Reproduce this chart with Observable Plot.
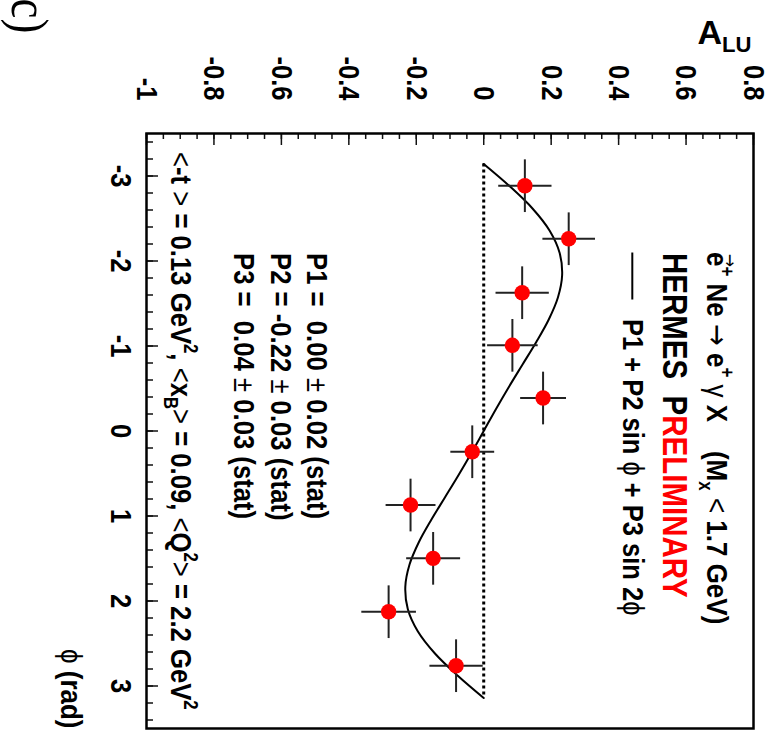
<!DOCTYPE html>
<html><head><meta charset="utf-8">
<script src="https://cdn.jsdelivr.net/npm/d3@7"></script>
<script src="https://cdn.jsdelivr.net/npm/@observablehq/plot@0.6"></script>
<style>
html,body{margin:0;padding:0;background:#fff;}
#chart svg text{white-space:pre;}
</style></head><body><div id="chart"></div>
<script>
// ---- data ----
const phiBins      = [-2.886, -2.262, -1.627, -1.008, -0.388, 0.244, 0.871, 1.498, 2.126, 2.761];
const aluValues    = [0.122, 0.252, 0.114, 0.085, 0.176, -0.034, -0.217, -0.150, -0.282, -0.082];
const aluErrors    = [0.079, 0.078, 0.079, 0.075, 0.068, 0.065, 0.074, 0.080, 0.081, 0.079];
const phiHalfWidth = [0.31, 0.31, 0.31, 0.31, 0.31, 0.31, 0.31, 0.31, 0.31, 0.31];

// fit curve P1 + P2 sin(phi) + P3 sin(2 phi), tabulated
const fitPhi = [-3.1416,-2.8798,-2.618,-2.3562,-2.0944,-1.8326,-1.5708,-1.309,-1.0472,-0.7854,-0.5236,-0.2618,0,
                0.2618,0.5236,0.7854,1.0472,1.309,1.5708,1.8326,2.0944,2.3562,2.618,2.8798,3.1416];
const fitAlu = [0,0.0769,0.1446,0.1956,0.2252,0.2325,0.22,0.1925,0.1559,0.1156,0.0754,0.0369,0,
                -0.0369,-0.0754,-0.1156,-0.1559,-0.1925,-0.22,-0.2325,-0.2252,-0.1956,-0.1446,-0.0769,0];

const aTicks        = [-1, -0.8, -0.6, -0.4, -0.2, 0, 0.2, 0.4, 0.6, 0.8];
const aTickLabels   = ["-1", "-0.8", "-0.6", "-0.4", "-0.2", "0", "0.2", "0.4", "0.6", "0.8"];
const phiTicks      = [-3, -2, -1, 0, 1, 2, 3];
const phiTickLabels = ["-3", "-2", "-1", "0", "1", "2", "3"];

const reactionText = "e^{+} Ne ~{→} e^{+} ~{γ} X    (M_{x} ~{<} 1.7 GeV)";
const hermesText   = "HERMES  P!{RELIMINARY}";
const fitText      = "P1 + P2 sin ~{ϕ} + P3 sin 2~{ϕ}";
const paramTexts   = ["P1 =  0.00 ~{±} 0.02 (stat)", "P2 = -0.22 ~{±} 0.03 (stat)", "P3 =  0.04 ~{±} 0.03 (stat)"];
const kinText      = "~{<}-t ~{>} = 0.13 GeV^{2}, ~{<}x_{B}~{>} = 0.09, ~{<}Q^{2}~{>} = 2.2 GeV^{2}";

// ---- layout ----
const W = 773, H = 736, mT = 133, mL = 146, mR = 20, mB = 8;
const plotW = W - mL - mR, plotH = H - mT - mB;
const FONT = "Liberation Sans, Arial, Helvetica, sans-serif";
const ARROWFONT = "DejaVu Sans, Liberation Sans, sans-serif";

const pts = phiBins.map((p, i) => ({phi: p, alu: aluValues[i], ea: aluErrors[i], ep: phiHalfWidth[i]}));
const fit = fitPhi.map((p, i) => ({phi: p, alu: fitAlu[i]}));
const aMinor = d3.range(-1, 0.8001, 0.05);
const phiMinor = d3.range(-3.4, 3.4001, 0.2);

const note = (str, a, p, size, extra = {}) =>
  Plot.text([str], {x: () => a, y: () => p, text: d => d, rotate: 90, textAnchor: "start",
    lineAnchor: "middle", fontSize: size, fontWeight: "bold", fontFamily: FONT, ...extra});

const chart = Plot.plot({
  width: W, height: H, marginTop: mT, marginLeft: mL, marginRight: mR, marginBottom: mB,
  style: {background: "white", fontFamily: FONT},
  x: {domain: [-1, 0.8], axis: null},
  y: {domain: [-3.5, 3.5], reverse: true, axis: null},
  marks: [
    Plot.tickX(aMinor, {x: d => d, insetBottom: plotH - 6, stroke: "#111", strokeWidth: 1.5}),
    Plot.tickX(aTicks, {x: d => d, insetBottom: plotH - 12, stroke: "#111", strokeWidth: 1.5}),
    Plot.tickY(phiMinor, {y: d => d, insetRight: plotW - 7, stroke: "#111", strokeWidth: 1.5}),
    Plot.tickY(phiTicks, {y: d => d, insetRight: plotW - 12, stroke: "#111", strokeWidth: 1.5}),
    Plot.ruleX([0], {y1: fitPhi[0], y2: fitPhi[fitPhi.length - 1], stroke: "black", strokeWidth: 3, strokeDasharray: "3,3"}),
    Plot.line(fit, {x: "alu", y: "phi", curve: "catmull-rom", stroke: "black", strokeWidth: 2}),
    Plot.link(pts, {x1: d => d.alu - d.ea, x2: d => d.alu + d.ea, y1: "phi", y2: "phi", stroke: "#222", strokeWidth: 2}),
    Plot.link(pts, {x1: "alu", x2: "alu", y1: d => d.phi - d.ep, y2: d => d.phi + d.ep, stroke: "#222", strokeWidth: 2}),
    Plot.dot(pts, {x: "alu", y: "phi", r: 7.7, fill: "#ff0000"}),
    Plot.frame({stroke: "black", strokeWidth: 2.5}),
    // tick labels
    Plot.text(aTicks, {x: d => d, text: (d, i) => aTickLabels[i], frameAnchor: "top", dy: -33, rotate: 90,
      textAnchor: "end", lineAnchor: "middle", fontSize: 25.5, fontWeight: "bold", fontFamily: FONT}),
    Plot.text(phiTicks, {y: d => d, text: (d, i) => phiTickLabels[i], frameAnchor: "left", dx: -26, rotate: 90,
      textAnchor: "middle", lineAnchor: "middle", fontSize: 25.5, fontWeight: "bold", fontFamily: FONT}),
    // axis titles
    Plot.text(["A_{LU}"], {frameAnchor: "top-right", dx: -2, dy: -90, textAnchor: "end", lineAnchor: "bottom",
      fontSize: 34, fontWeight: "bold", fontFamily: FONT}),
    Plot.text(["~{ϕ} (rad)"], {frameAnchor: "bottom-left", dx: -76, dy: 0, rotate: 90, textAnchor: "end",
      lineAnchor: "middle", fontSize: 26, fontWeight: "bold", fontFamily: FONT}),
    Plot.text(["(c)"], {frameAnchor: "top-left", dx: -118, dy: -100, rotate: 90, textAnchor: "end",
      lineAnchor: "middle", fontSize: 45, fontWeight: "normal", fontFamily: "Liberation Serif, Times New Roman, serif"}),
    // legend / annotations
    note(reactionText, 0.691, -2.106, 26),
    note("→", 0.7312, -2.006, 16, {textAnchor: "middle", fontWeight: "normal", fontFamily: ARROWFONT}),
    note(hermesText, 0.565, -2.094, 29.5),
    Plot.ruleX([0.4406], {y1: -2.094, y2: -1.541, stroke: "black", strokeWidth: 2}),
    note(fitText, 0.4427, -1.318, 25.5),
    note(paramTexts[0], -0.4957, -2.094, 25.7),
    note(paramTexts[1], -0.602, -2.094, 25.7),
    note(paramTexts[2], -0.712, -2.094, 25.7),
    note(kinText, -0.8987, -3.282, 25.7)
  ]
});

document.getElementById("chart").appendChild(chart);

// rich text: ^{sup} _{sub} !{red} ~{thin symbol}; vertical stretch of rotated glyphs
const STRETCH = 1.17;
chart.querySelectorAll("text").forEach(el => {
  const raw = el.textContent;
  const g = el.closest("g");
  const base = parseFloat(el.getAttribute("font-size") || (g && g.getAttribute("font-size"))) || 25;
  if (/[\^_!~]\{/.test(raw)) {
    el.textContent = "";
    const re = /([\^_!~])\{([^}]*)\}/g;
    let last = 0, m, shift = 0;
    const add = (txt, kind) => {
      if (!txt) return;
      const ts = document.createElementNS("http://www.w3.org/2000/svg", "tspan");
      let target = 0;
      if (kind === "^") { ts.setAttribute("font-size", base * 0.65); target = -0.42 * base; }
      else if (kind === "_") { ts.setAttribute("font-size", base * 0.65); target = 0.25 * base; }
      else if (kind === "!") ts.setAttribute("fill", "#ff0000");
      else if (kind === "~") {
        ts.setAttribute("font-weight", "normal");
        if (txt.includes("→")) ts.setAttribute("font-family", ARROWFONT);
      }
      if (target !== shift) { ts.setAttribute("dy", target - shift); shift = target; }
      ts.textContent = txt;
      el.appendChild(ts);
    };
    while ((m = re.exec(raw))) { add(raw.slice(last, m.index), ""); add(m[2], m[1]); last = re.lastIndex; }
    add(raw.slice(last), "");
  }
  const tr = el.getAttribute("transform") || "";
  if (tr.includes("rotate(90")) el.setAttribute("transform", tr + ` scale(1,${STRETCH})`);
});
</script></body></html>
